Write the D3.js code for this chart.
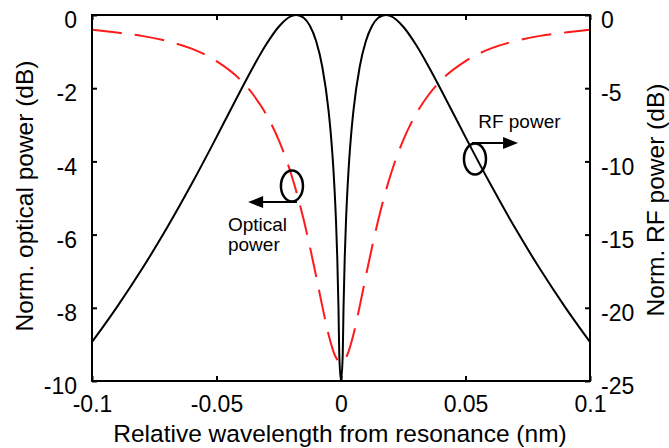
<!DOCTYPE html>
<html>
<head>
<meta charset="utf-8">
<script src="https://cdn.jsdelivr.net/npm/d3@7"></script>
<style>
  html, body { margin: 0; padding: 0; background: #fff; }
  svg { display: block; font-family: "Liberation Sans", Arial, sans-serif; }
</style>
</head>
<body>
<svg id="chart" width="669" height="448"></svg>
<script>
// ---- data ----
const rfWavelength = [-0.1, -0.09, -0.08, -0.07, -0.06, -0.05, -0.045, -0.04, -0.035, -0.03, -0.025, -0.02, -0.0179, -0.015, -0.0125, -0.01, -0.0075, -0.005, -0.004, -0.003, -0.002, -0.0015, -0.001, -0.0007, 0,
  0.0007, 0.001, 0.0015, 0.002, 0.003, 0.004, 0.005, 0.0075, 0.01, 0.0125, 0.015, 0.0179, 0.02, 0.025, 0.03, 0.035, 0.04, 0.045, 0.05, 0.06, 0.07, 0.08, 0.09, 0.1];
const rfPower = [-22.34, -19.95, -17.37, -14.57, -11.55, -8.34, -6.69, -5.05, -3.46, -2.00, -0.80, -0.08, 0, -0.19, -0.74, -1.78, -3.55, -6.53, -8.31, -10.68, -14.11, -16.58, -20.08, -23.17, -25,
  -23.17, -20.08, -16.58, -14.11, -10.68, -8.31, -6.53, -3.55, -1.78, -0.74, -0.19, 0, -0.08, -0.80, -2.00, -3.46, -5.05, -6.69, -8.34, -11.55, -14.57, -17.37, -19.95, -22.34];

const optWavelength = [-0.1, -0.09, -0.08, -0.07, -0.06, -0.05, -0.04, -0.035, -0.03, -0.025, -0.02, -0.0175, -0.015, -0.0125, -0.01, -0.0075, -0.005, -0.0025, 0,
  0.0025, 0.005, 0.0075, 0.01, 0.0125, 0.015, 0.0175, 0.02, 0.025, 0.03, 0.035, 0.04, 0.05, 0.06, 0.07, 0.08, 0.09, 0.1];
const optPower = [-0.40, -0.48, -0.57, -0.71, -0.92, -1.26, -1.80, -2.20, -2.72, -3.42, -4.35, -4.93, -5.59, -6.33, -7.13, -7.96, -8.73, -9.29, -9.50,
  -9.29, -8.73, -7.96, -7.13, -6.33, -5.59, -4.93, -4.35, -3.42, -2.72, -2.20, -1.80, -1.26, -0.92, -0.71, -0.57, -0.48, -0.40];

const xTicks = [-0.1, -0.05, 0, 0.05, 0.1];
const xTickLabels = ["-0.1", "-0.05", "0", "0.05", "0.1"];
const yLeftTicks = [0, -2, -4, -6, -8, -10];
const yLeftTickLabels = ["0", "-2", "-4", "-6", "-8", "-10"];
const yRightTicks = [0, -5, -10, -15, -20, -25];
const yRightTickLabels = ["0", "-5", "-10", "-15", "-20", "-25"];

const xLabel = "Relative wavelength from resonance (nm)";
const yLeftLabel = "Norm. optical power (dB)";
const yRightLabel = "Norm. RF power (dB)";

// ---- layout ----
const svg = d3.select("#chart");
const L = 92, R = 590, T = 15, B = 381;

const x = d3.scaleLinear().domain([-0.1, 0.1]).range([L, R]);
const yL = d3.scaleLinear().domain([-10, 0]).range([B, T]);
const yR = d3.scaleLinear().domain([-25, 0]).range([B, T]);

// clip
svg.append("defs").append("clipPath").attr("id", "clip")
  .append("rect").attr("x", L).attr("y", T).attr("width", R - L).attr("height", B - T);

// curves
const rfData = rfWavelength.map((d, i) => [d, rfPower[i]]);
const optData = optWavelength.map((d, i) => [d, optPower[i]]);

svg.append("path")
  .attr("clip-path", "url(#clip)")
  .attr("d", d3.line().x(d => x(d[0])).y(d => yR(d[1])).curve(d3.curveMonotoneX)(rfData))
  .attr("fill", "none").attr("stroke", "#000").attr("stroke-width", 2);

svg.append("path")
  .attr("clip-path", "url(#clip)")
  .attr("d", d3.line().x(d => x(d[0])).y(d => yL(d[1])).curve(d3.curveMonotoneX)(optData))
  .attr("fill", "none").attr("stroke", "#ff1a1a").attr("stroke-width", 2)
  .attr("stroke-dasharray", "30,13");

// axes
const tickLen = 5;
const axB = svg.append("g").attr("transform", `translate(0,${B})`)
  .call(d3.axisBottom(x).tickValues(xTicks).tickFormat((d, i) => xTickLabels[i]).tickSizeInner(-tickLen).tickSizeOuter(0).tickPadding(tickLen + 10));
const axT = svg.append("g").attr("transform", `translate(0,${T})`)
  .call(d3.axisTop(x).tickValues(xTicks).tickFormat("").tickSizeInner(-tickLen).tickSizeOuter(0));
const axL = svg.append("g").attr("transform", `translate(${L},0)`)
  .call(d3.axisLeft(yL).tickValues(yLeftTicks).tickFormat((d, i) => yLeftTickLabels[i]).tickSizeInner(-tickLen).tickSizeOuter(0).tickPadding(tickLen + 10));
const axR = svg.append("g").attr("transform", `translate(${R},0)`)
  .call(d3.axisRight(yR).tickValues(yRightTicks).tickFormat((d, i) => yRightTickLabels[i]).tickSizeInner(-tickLen).tickSizeOuter(0).tickPadding(tickLen + 6));

[axB, axT, axL, axR].forEach(a => {
  a.select(".domain").remove();
  a.selectAll(".tick line").attr("stroke", "#000").attr("stroke-width", 2);
  a.selectAll("text").attr("fill", "#000").attr("font-size", 23).attr("font-family", "Liberation Sans, Arial, sans-serif");
});
axL.selectAll("text").attr("dy", "0.55em");
axR.selectAll("text").attr("dy", "0.55em");
axB.selectAll("text").attr("dy", "0.71em");

// box
svg.append("rect").attr("x", L).attr("y", T).attr("width", R - L).attr("height", B - T)
  .attr("fill", "none").attr("stroke", "#000").attr("stroke-width", 2);

// axis labels
svg.append("text").attr("x", (L + R) / 2 - 1).attr("y", 442).attr("text-anchor", "middle")
  .attr("font-size", 24.5).attr("fill", "#000").text(xLabel);
svg.append("text").attr("transform", "translate(33,196) rotate(-90)").attr("text-anchor", "middle")
  .attr("font-size", 24.5).attr("fill", "#000").text(yLeftLabel);
svg.append("text").attr("transform", "translate(664,200) rotate(-90)").attr("text-anchor", "middle")
  .attr("font-size", 24.5).attr("fill", "#000").text(yRightLabel);

// annotations (positioned in data units)
const optAnn = { cx: -0.0197, cy: -4.67, arrowFrom: -0.0177, arrowTo: -0.0373, arrowY: -5.11, textX: -0.0454, line1Y: -5.89, line2Y: -6.46 };
const rfAnn = { cx: 0.0538, cy: -9.84, arrowFrom: 0.0526, arrowTo: 0.0711, arrowY: -8.74, textX: 0.0551, textY: -7.72 };

function arrow(x0, x1, yy) {
  const dir = Math.sign(x1 - x0);
  svg.append("line").attr("x1", x0).attr("x2", x1 - dir * 12).attr("y1", yy).attr("y2", yy)
    .attr("stroke", "#000").attr("stroke-width", 2);
  svg.append("path").attr("d", `M${x1},${yy}L${x1 - dir * 15},${yy - 6}L${x1 - dir * 15},${yy + 6}Z`).attr("fill", "#000");
}

svg.append("ellipse").attr("cx", x(optAnn.cx)).attr("cy", yL(optAnn.cy)).attr("rx", 11).attr("ry", 15.5)
  .attr("fill", "none").attr("stroke", "#000").attr("stroke-width", 2.5);
arrow(x(optAnn.arrowFrom), x(optAnn.arrowTo), yL(optAnn.arrowY));
svg.append("text").attr("x", x(optAnn.textX)).attr("y", yL(optAnn.line1Y)).attr("font-size", 19).attr("fill", "#000").text("Optical");
svg.append("text").attr("x", x(optAnn.textX)).attr("y", yL(optAnn.line2Y)).attr("font-size", 19).attr("fill", "#000").text("power");

svg.append("ellipse").attr("cx", x(rfAnn.cx)).attr("cy", yR(rfAnn.cy)).attr("rx", 11).attr("ry", 15.5)
  .attr("fill", "none").attr("stroke", "#000").attr("stroke-width", 2.5);
arrow(x(rfAnn.arrowFrom), x(rfAnn.arrowTo), yR(rfAnn.arrowY));
svg.append("text").attr("x", x(rfAnn.textX)).attr("y", yR(rfAnn.textY)).attr("font-size", 19).attr("fill", "#000").text("RF power");
</script>
</body>
</html>
